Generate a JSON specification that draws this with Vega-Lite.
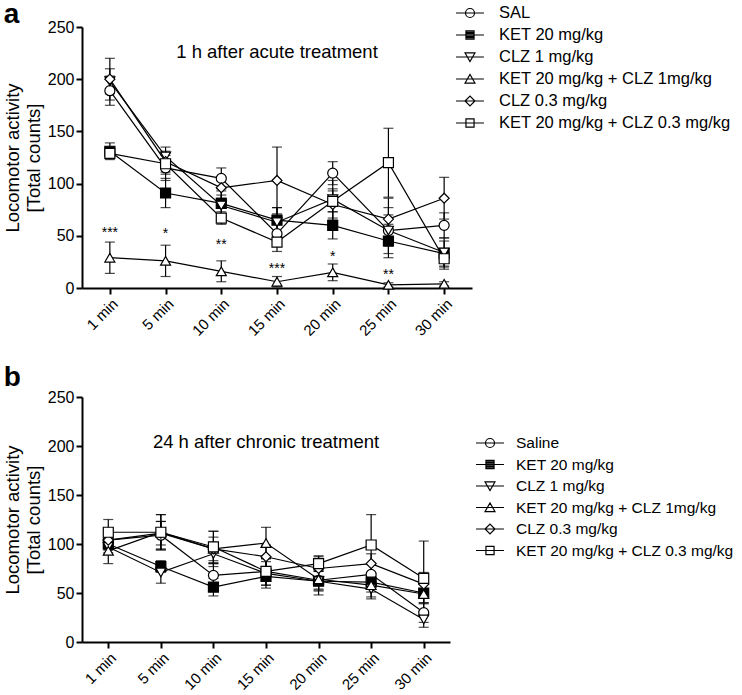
{
  "$schema": "https://vega.github.io/schema/vega-lite/v6.json",
  "background": "white",
  "padding": {"left": 3, "top": 1, "right": 0, "bottom": 0},
  "spacing": 25,
  "config": {
    "view": {"stroke": null},
    "font": "Liberation Sans",
    "axis": {"grid": false, "domainColor": "black", "domainWidth": 2, "tickColor": "black", "tickWidth": 2, "tickSize": 6, "labelColor": "black", "labelFontSize": 16, "titleColor": "black", "titleFontWeight": "normal", "titleFontSize": 18.5, "labelFont": "Liberation Sans", "titleFont": "Liberation Sans"},
    "legend": {"orient": "none", "title": null, "symbolSize": 324, "padding": 0, "symbolStrokeWidth": 1.2, "symbolStrokeColor": "black", "labelColor": "black", "labelFont": "Liberation Sans", "labelLimit": 400},
    "title": {"color": "black", "font": "Liberation Sans"}
  },
  "datasets": {
    "a": [
      {"series": "SAL", "time": "1 min", "mean": 189, "err": 14},
      {"series": "SAL", "time": "5 min", "mean": 115, "err": 12},
      {"series": "SAL", "time": "10 min", "mean": 105, "err": 10},
      {"series": "SAL", "time": "15 min", "mean": 52, "err": 10},
      {"series": "SAL", "time": "20 min", "mean": 110, "err": 11},
      {"series": "SAL", "time": "25 min", "mean": 55, "err": 15},
      {"series": "SAL", "time": "30 min", "mean": 60, "err": 12},
      {"series": "KET 20 mg/kg", "time": "1 min", "mean": 131, "err": 8},
      {"series": "KET 20 mg/kg", "time": "5 min", "mean": 91, "err": 14},
      {"series": "KET 20 mg/kg", "time": "10 min", "mean": 81, "err": 12},
      {"series": "KET 20 mg/kg", "time": "15 min", "mean": 65, "err": 12},
      {"series": "KET 20 mg/kg", "time": "20 min", "mean": 60, "err": 13},
      {"series": "KET 20 mg/kg", "time": "25 min", "mean": 45, "err": 16},
      {"series": "KET 20 mg/kg", "time": "30 min", "mean": 33, "err": 12},
      {"series": "CLZ 1 mg/kg", "time": "1 min", "mean": 198, "err": 12},
      {"series": "CLZ 1 mg/kg", "time": "5 min", "mean": 126, "err": 9},
      {"series": "CLZ 1 mg/kg", "time": "10 min", "mean": 79, "err": 10},
      {"series": "CLZ 1 mg/kg", "time": "15 min", "mean": 63, "err": 14},
      {"series": "CLZ 1 mg/kg", "time": "20 min", "mean": 85, "err": 18},
      {"series": "CLZ 1 mg/kg", "time": "25 min", "mean": 55, "err": 22},
      {"series": "CLZ 1 mg/kg", "time": "30 min", "mean": 34, "err": 14},
      {"series": "KET 20 mg/kg + CLZ 1mg/kg", "time": "1 min", "mean": 29, "err": 15},
      {"series": "KET 20 mg/kg + CLZ 1mg/kg", "time": "5 min", "mean": 26, "err": 15},
      {"series": "KET 20 mg/kg + CLZ 1mg/kg", "time": "10 min", "mean": 16, "err": 10},
      {"series": "KET 20 mg/kg + CLZ 1mg/kg", "time": "15 min", "mean": 6, "err": 5},
      {"series": "KET 20 mg/kg + CLZ 1mg/kg", "time": "20 min", "mean": 15, "err": 8},
      {"series": "KET 20 mg/kg + CLZ 1mg/kg", "time": "25 min", "mean": 3, "err": 2},
      {"series": "KET 20 mg/kg + CLZ 1mg/kg", "time": "30 min", "mean": 4, "err": 2},
      {"series": "CLZ 0.3 mg/kg", "time": "1 min", "mean": 200, "err": 20},
      {"series": "CLZ 0.3 mg/kg", "time": "5 min", "mean": 121, "err": 10},
      {"series": "CLZ 0.3 mg/kg", "time": "10 min", "mean": 96, "err": 10},
      {"series": "CLZ 0.3 mg/kg", "time": "15 min", "mean": 103, "err": 32},
      {"series": "CLZ 0.3 mg/kg", "time": "20 min", "mean": 80, "err": 15},
      {"series": "CLZ 0.3 mg/kg", "time": "25 min", "mean": 66, "err": 20},
      {"series": "CLZ 0.3 mg/kg", "time": "30 min", "mean": 86, "err": 20},
      {"series": "KET 20 mg/kg + CLZ 0.3 mg/kg", "time": "1 min", "mean": 129, "err": 5},
      {"series": "KET 20 mg/kg + CLZ 0.3 mg/kg", "time": "5 min", "mean": 119, "err": 10},
      {"series": "KET 20 mg/kg + CLZ 0.3 mg/kg", "time": "10 min", "mean": 67, "err": 6},
      {"series": "KET 20 mg/kg + CLZ 0.3 mg/kg", "time": "15 min", "mean": 44, "err": 9},
      {"series": "KET 20 mg/kg + CLZ 0.3 mg/kg", "time": "20 min", "mean": 83, "err": 10},
      {"series": "KET 20 mg/kg + CLZ 0.3 mg/kg", "time": "25 min", "mean": 120, "err": 33},
      {"series": "KET 20 mg/kg + CLZ 0.3 mg/kg", "time": "30 min", "mean": 28, "err": 10}
    ],
    "b": [
      {"series": "Saline", "time": "1 min", "mean": 104, "err": 8},
      {"series": "Saline", "time": "5 min", "mean": 109, "err": 14},
      {"series": "Saline", "time": "10 min", "mean": 68, "err": 12},
      {"series": "Saline", "time": "15 min", "mean": 72, "err": 10},
      {"series": "Saline", "time": "20 min", "mean": 63, "err": 10},
      {"series": "Saline", "time": "25 min", "mean": 69, "err": 10},
      {"series": "Saline", "time": "30 min", "mean": 30, "err": 10},
      {"series": "KET 20 mg/kg", "time": "1 min", "mean": 100, "err": 6},
      {"series": "KET 20 mg/kg", "time": "5 min", "mean": 77, "err": 6},
      {"series": "KET 20 mg/kg", "time": "10 min", "mean": 56, "err": 9},
      {"series": "KET 20 mg/kg", "time": "15 min", "mean": 67, "err": 9},
      {"series": "KET 20 mg/kg", "time": "20 min", "mean": 62, "err": 10},
      {"series": "KET 20 mg/kg", "time": "25 min", "mean": 61, "err": 10},
      {"series": "KET 20 mg/kg", "time": "30 min", "mean": 50, "err": 10},
      {"series": "CLZ 1 mg/kg", "time": "1 min", "mean": 97, "err": 6},
      {"series": "CLZ 1 mg/kg", "time": "5 min", "mean": 71, "err": 11},
      {"series": "CLZ 1 mg/kg", "time": "10 min", "mean": 90, "err": 10},
      {"series": "CLZ 1 mg/kg", "time": "15 min", "mean": 70, "err": 15},
      {"series": "CLZ 1 mg/kg", "time": "20 min", "mean": 62, "err": 14},
      {"series": "CLZ 1 mg/kg", "time": "25 min", "mean": 54, "err": 10},
      {"series": "CLZ 1 mg/kg", "time": "30 min", "mean": 23, "err": 8},
      {"series": "KET 20 mg/kg + CLZ 1mg/kg", "time": "1 min", "mean": 93, "err": 13},
      {"series": "KET 20 mg/kg + CLZ 1mg/kg", "time": "5 min", "mean": 112, "err": 18},
      {"series": "KET 20 mg/kg + CLZ 1mg/kg", "time": "10 min", "mean": 95, "err": 18},
      {"series": "KET 20 mg/kg + CLZ 1mg/kg", "time": "15 min", "mean": 101, "err": 16},
      {"series": "KET 20 mg/kg + CLZ 1mg/kg", "time": "20 min", "mean": 64, "err": 10},
      {"series": "KET 20 mg/kg + CLZ 1mg/kg", "time": "25 min", "mean": 58, "err": 12},
      {"series": "KET 20 mg/kg + CLZ 1mg/kg", "time": "30 min", "mean": 49, "err": 10},
      {"series": "CLZ 0.3 mg/kg", "time": "1 min", "mean": 104, "err": 10},
      {"series": "CLZ 0.3 mg/kg", "time": "5 min", "mean": 111, "err": 12},
      {"series": "CLZ 0.3 mg/kg", "time": "10 min", "mean": 95, "err": 12},
      {"series": "CLZ 0.3 mg/kg", "time": "15 min", "mean": 87, "err": 12},
      {"series": "CLZ 0.3 mg/kg", "time": "20 min", "mean": 75, "err": 12},
      {"series": "CLZ 0.3 mg/kg", "time": "25 min", "mean": 80, "err": 10},
      {"series": "CLZ 0.3 mg/kg", "time": "30 min", "mean": 59, "err": 12},
      {"series": "KET 20 mg/kg + CLZ 0.3 mg/kg", "time": "1 min", "mean": 112, "err": 13},
      {"series": "KET 20 mg/kg + CLZ 0.3 mg/kg", "time": "5 min", "mean": 112, "err": 18},
      {"series": "KET 20 mg/kg + CLZ 0.3 mg/kg", "time": "10 min", "mean": 97, "err": 16},
      {"series": "KET 20 mg/kg + CLZ 0.3 mg/kg", "time": "15 min", "mean": 72, "err": 14},
      {"series": "KET 20 mg/kg + CLZ 0.3 mg/kg", "time": "20 min", "mean": 80, "err": 8},
      {"series": "KET 20 mg/kg + CLZ 0.3 mg/kg", "time": "25 min", "mean": 99, "err": 31},
      {"series": "KET 20 mg/kg + CLZ 0.3 mg/kg", "time": "30 min", "mean": 65, "err": 38}
    ],
    "starsA": [
      {"time": "1 min", "y": 53, "label": "***"},
      {"time": "5 min", "y": 52, "label": "*"},
      {"time": "10 min", "y": 41, "label": "**"},
      {"time": "15 min", "y": 18, "label": "***"},
      {"time": "20 min", "y": 30, "label": "*"},
      {"time": "25 min", "y": 12, "label": "**"}
    ],
    "notes": [
      {"panel": "a", "time": "15 min", "y": 226, "label": "1 h after acute treatment"},
      {"panel": "b", "time": "15 min", "y": 204, "label": "24 h after chronic treatment"}
    ]
  },
  "vconcat": [
    {
      "title": {"text": "a", "anchor": "start", "frame": "bounds", "fontSize": 28, "fontWeight": "bold", "offset": -26},
      "width": 390,
      "height": 261,
      "resolve": {"scale": {"shape": "independent"}},
      "layer": [
        {
          "data": {"name": "a"},
          "mark": {"type": "line", "color": "black", "strokeWidth": 1.2},
          "encoding": {
            "x": {"field": "time", "type": "ordinal", "scale": {"type": "point", "padding": 0.5, "domain": ["1 min", "5 min", "10 min", "15 min", "20 min", "25 min", "30 min"]}, "axis": {"title": null, "labelAngle": -45, "labelFontSize": 15}},
            "y": {"field": "mean", "type": "quantitative", "scale": {"domain": [0, 250]}, "axis": {"values": [0, 50, 100, 150, 200, 250], "title": ["Locomotor activity", "[Total counts]"]}},
            "detail": {"field": "series"}
          }
        },
        {
          "data": {"name": "a"},
          "mark": {"type": "errorbar", "ticks": {"size": 10, "color": "black"}, "color": "black", "thickness": 1.2},
          "encoding": {
            "x": {"field": "time", "type": "ordinal", "scale": {"type": "point", "padding": 0.5, "domain": ["1 min", "5 min", "10 min", "15 min", "20 min", "25 min", "30 min"]}, "axis": {"title": null, "labelAngle": -45, "labelFontSize": 15}},
            "y": {"field": "mean", "type": "quantitative", "scale": {"domain": [0, 250]}, "axis": {"values": [0, 50, 100, 150, 200, 250], "title": ["Locomotor activity", "[Total counts]"]}},
            "yError": {"field": "err"},
            "detail": {"field": "series"}
          }
        },
        {
          "data": {"name": "a"},
          "mark": {"type": "point", "filled": true, "stroke": "black", "strokeWidth": 1.2, "size": 100, "opacity": 1},
          "encoding": {
            "x": {"field": "time", "type": "ordinal", "scale": {"type": "point", "padding": 0.5, "domain": ["1 min", "5 min", "10 min", "15 min", "20 min", "25 min", "30 min"]}, "axis": {"title": null, "labelAngle": -45, "labelFontSize": 15}},
            "y": {"field": "mean", "type": "quantitative", "scale": {"domain": [0, 250]}, "axis": {"values": [0, 50, 100, 150, 200, 250], "title": ["Locomotor activity", "[Total counts]"]}},
            "shape": {"field": "series", "scale": {"domain": ["SAL", "KET 20 mg/kg", "CLZ 1 mg/kg", "KET 20 mg/kg + CLZ 1mg/kg", "CLZ 0.3 mg/kg", "KET 20 mg/kg + CLZ 0.3 mg/kg"], "range": ["circle", "square", "triangle-down", "triangle-up", "diamond", "square"]}, "legend": null},
            "fill": {"field": "series", "scale": {"domain": ["SAL", "KET 20 mg/kg", "CLZ 1 mg/kg", "KET 20 mg/kg + CLZ 1mg/kg", "CLZ 0.3 mg/kg", "KET 20 mg/kg + CLZ 0.3 mg/kg"], "range": ["white", "black", "white", "white", "white", "white"]}, "legend": null}
          }
        },
        {
          "data": {"name": "a"},
          "transform": [{"filter": "datum.mean < -999"}],
          "mark": {"type": "point", "filled": false, "color": "black", "strokeWidth": 1.2, "opacity": 1},
          "encoding": {
            "shape": {"field": "series", "scale": {"domain": ["SAL", "KET 20 mg/kg", "CLZ 1 mg/kg", "KET 20 mg/kg + CLZ 1mg/kg", "CLZ 0.3 mg/kg", "KET 20 mg/kg + CLZ 0.3 mg/kg"], "range": ["M-1.55,0L1.55,0M-0.5,0A0.5,0.5,0,1,1,0.5,0A0.5,0.5,0,1,1,-0.5,0Z", "M-1.55,0L1.55,0M-0.45,-0.45L0.45,-0.45L0.45,0.45L-0.45,0.45ZM-0.45,-0.3L0.45,-0.3M-0.45,-0.15L0.45,-0.15M-0.45,0.15L0.45,0.15M-0.45,0.3L0.45,0.3", "M-1.55,0L1.55,0M-0.55,-0.45L0.55,-0.45L0,0.5Z", "M-1.55,0L1.55,0M-0.55,0.45L0.55,0.45L0,-0.5Z", "M-1.55,0L1.55,0M-0.55,0L0,-0.55L0.55,0L0,0.55Z", "M-1.55,0L1.55,0M-0.45,-0.45L0.45,-0.45L0.45,0.45L-0.45,0.45Z"]}, "legend": {"legendX": 378, "legendY": -24, "labelFontSize": 16.5, "labelOffset": 19, "rowPadding": 3, "symbolStrokeColor": "black", "symbolFillColor": "transparent"}}
          }
        },
        {
          "data": {"name": "starsA"},
          "mark": {"type": "text", "fontSize": 14, "color": "black", "baseline": "middle"},
          "encoding": {
            "x": {"field": "time", "type": "ordinal", "scale": {"type": "point", "padding": 0.5, "domain": ["1 min", "5 min", "10 min", "15 min", "20 min", "25 min", "30 min"]}, "axis": {"title": null, "labelAngle": -45, "labelFontSize": 15}},
            "y": {"field": "y", "type": "quantitative", "scale": {"domain": [0, 250]}, "axis": {"values": [0, 50, 100, 150, 200, 250], "title": ["Locomotor activity", "[Total counts]"]}},
            "text": {"field": "label"}
          }
        },
        {
          "data": {"name": "notes"},
          "transform": [{"filter": "datum.panel == 'a'"}],
          "mark": {"type": "text", "fontSize": 18.5, "color": "black", "baseline": "middle"},
          "encoding": {
            "x": {"field": "time", "type": "ordinal", "scale": {"type": "point", "padding": 0.5, "domain": ["1 min", "5 min", "10 min", "15 min", "20 min", "25 min", "30 min"]}, "axis": {"title": null, "labelAngle": -45, "labelFontSize": 15}},
            "y": {"field": "y", "type": "quantitative", "scale": {"domain": [0, 250]}, "axis": {"values": [0, 50, 100, 150, 200, 250], "title": ["Locomotor activity", "[Total counts]"]}},
            "text": {"field": "label"}
          }
        }
      ]
    },
    {
      "title": {"text": "b", "anchor": "start", "frame": "bounds", "fontSize": 28, "fontWeight": "bold", "offset": -3},
      "width": 368,
      "height": 245,
      "resolve": {"scale": {"shape": "independent"}},
      "layer": [
        {
          "data": {"name": "b"},
          "mark": {"type": "line", "color": "black", "strokeWidth": 1.2},
          "encoding": {
            "x": {"field": "time", "type": "ordinal", "scale": {"type": "point", "padding": 0.5, "domain": ["1 min", "5 min", "10 min", "15 min", "20 min", "25 min", "30 min"]}, "axis": {"title": null, "labelAngle": -45, "labelFontSize": 15}},
            "y": {"field": "mean", "type": "quantitative", "scale": {"domain": [0, 250]}, "axis": {"values": [0, 50, 100, 150, 200, 250], "title": ["Locomotor activity", "[Total counts]"]}},
            "detail": {"field": "series"}
          }
        },
        {
          "data": {"name": "b"},
          "mark": {"type": "errorbar", "ticks": {"size": 10, "color": "black"}, "color": "black", "thickness": 1.2},
          "encoding": {
            "x": {"field": "time", "type": "ordinal", "scale": {"type": "point", "padding": 0.5, "domain": ["1 min", "5 min", "10 min", "15 min", "20 min", "25 min", "30 min"]}, "axis": {"title": null, "labelAngle": -45, "labelFontSize": 15}},
            "y": {"field": "mean", "type": "quantitative", "scale": {"domain": [0, 250]}, "axis": {"values": [0, 50, 100, 150, 200, 250], "title": ["Locomotor activity", "[Total counts]"]}},
            "yError": {"field": "err"},
            "detail": {"field": "series"}
          }
        },
        {
          "data": {"name": "b"},
          "mark": {"type": "point", "filled": true, "stroke": "black", "strokeWidth": 1.2, "size": 100, "opacity": 1},
          "encoding": {
            "x": {"field": "time", "type": "ordinal", "scale": {"type": "point", "padding": 0.5, "domain": ["1 min", "5 min", "10 min", "15 min", "20 min", "25 min", "30 min"]}, "axis": {"title": null, "labelAngle": -45, "labelFontSize": 15}},
            "y": {"field": "mean", "type": "quantitative", "scale": {"domain": [0, 250]}, "axis": {"values": [0, 50, 100, 150, 200, 250], "title": ["Locomotor activity", "[Total counts]"]}},
            "shape": {"field": "series", "scale": {"domain": ["Saline", "KET 20 mg/kg", "CLZ 1 mg/kg", "KET 20 mg/kg + CLZ 1mg/kg", "CLZ 0.3 mg/kg", "KET 20 mg/kg + CLZ 0.3 mg/kg"], "range": ["circle", "square", "triangle-down", "triangle-up", "diamond", "square"]}, "legend": null},
            "fill": {"field": "series", "scale": {"domain": ["Saline", "KET 20 mg/kg", "CLZ 1 mg/kg", "KET 20 mg/kg + CLZ 1mg/kg", "CLZ 0.3 mg/kg", "KET 20 mg/kg + CLZ 0.3 mg/kg"], "range": ["white", "black", "white", "white", "white", "white"]}, "legend": null}
          }
        },
        {
          "data": {"name": "b"},
          "transform": [{"filter": "datum.mean < -999"}],
          "mark": {"type": "point", "filled": false, "color": "black", "strokeWidth": 1.2, "opacity": 1},
          "encoding": {
            "shape": {"field": "series", "scale": {"domain": ["Saline", "KET 20 mg/kg", "CLZ 1 mg/kg", "KET 20 mg/kg + CLZ 1mg/kg", "CLZ 0.3 mg/kg", "KET 20 mg/kg + CLZ 0.3 mg/kg"], "range": ["M-1.55,0L1.55,0M-0.5,0A0.5,0.5,0,1,1,0.5,0A0.5,0.5,0,1,1,-0.5,0Z", "M-1.55,0L1.55,0M-0.45,-0.45L0.45,-0.45L0.45,0.45L-0.45,0.45ZM-0.45,-0.3L0.45,-0.3M-0.45,-0.15L0.45,-0.15M-0.45,0.15L0.45,0.15M-0.45,0.3L0.45,0.3", "M-1.55,0L1.55,0M-0.55,-0.45L0.55,-0.45L0,0.5Z", "M-1.55,0L1.55,0M-0.55,0.45L0.55,0.45L0,-0.5Z", "M-1.55,0L1.55,0M-0.55,0L0,-0.55L0.55,0L0,0.55Z", "M-1.55,0L1.55,0M-0.45,-0.45L0.45,-0.45L0.45,0.45L-0.45,0.45Z"]}, "legend": {"legendX": 398, "legendY": 36, "labelFontSize": 15.5, "labelOffset": 16, "rowPadding": 2.5, "symbolStrokeColor": "black", "symbolFillColor": "transparent"}}
          }
        },
        {
          "data": {"name": "notes"},
          "transform": [{"filter": "datum.panel == 'b'"}],
          "mark": {"type": "text", "fontSize": 18.5, "color": "black", "baseline": "middle"},
          "encoding": {
            "x": {"field": "time", "type": "ordinal", "scale": {"type": "point", "padding": 0.5, "domain": ["1 min", "5 min", "10 min", "15 min", "20 min", "25 min", "30 min"]}, "axis": {"title": null, "labelAngle": -45, "labelFontSize": 15}},
            "y": {"field": "y", "type": "quantitative", "scale": {"domain": [0, 250]}, "axis": {"values": [0, 50, 100, 150, 200, 250], "title": ["Locomotor activity", "[Total counts]"]}},
            "text": {"field": "label"}
          }
        }
      ]
    }
  ]
}
